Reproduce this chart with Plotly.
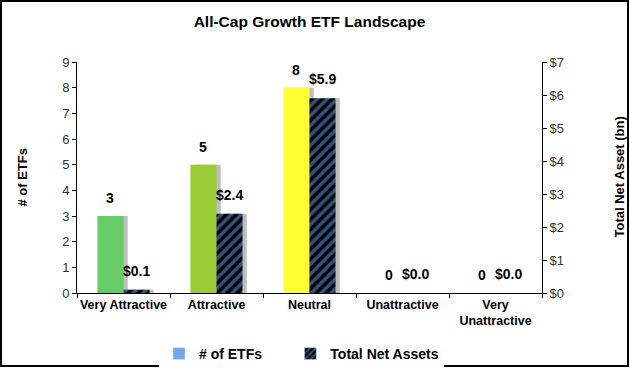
import plotly.graph_objects as go

categories = ["Very Attractive", "Attractive", "Neutral", "Unattractive", "Very<br>Unattractive"]
num_etfs = [3, 5, 8, 0, 0]
net_assets = [0.1, 2.4, 5.9, 0.0, 0.0]
etf_colors = ["#66CC66", "#99CC33", "#FFFF33", "#BBBBBB", "#BBBBBB"]
left_ticks = list(range(0, 10))
right_ticks = list(range(0, 8))

FONT = "Liberation Sans, Arial, sans-serif"
BW = 0.28      # bar width (category units)
SH = 0.045     # shadow shift
BLUE = "#62A8FF"
HATCH = dict(shape="/", fgcolor=BLUE, bgcolor="#000000", size=7, solidity=0.5)

W, H = 630, 368
ml, mr, mt, mb = 77, 88, 62, 75
pw, ph = W - ml - mr, H - mt - mb

fig = go.Figure()
# shadows
fig.add_trace(go.Bar(x=categories, y=num_etfs, showlegend=False, hoverinfo="skip",
                     marker=dict(color="#BDBDBD", line=dict(width=0)),
                     width=BW, offset=-BW + SH))
fig.add_trace(go.Bar(x=categories, y=net_assets, yaxis="y2", showlegend=False, hoverinfo="skip",
                     marker=dict(color="#BDBDBD", line=dict(width=0)),
                     width=BW, offset=SH))
# main bars
fig.add_trace(go.Bar(
    x=categories, y=num_etfs, name="# of ETFs", showlegend=False,
    marker=dict(color=etf_colors, line=dict(width=0)),
    width=BW, offset=-BW,
))
fig.add_trace(go.Bar(
    x=categories, y=net_assets, name="Total Net Assets", showlegend=False, yaxis="y2",
    marker=dict(color="#000000", line=dict(width=0), pattern=HATCH),
    width=BW, offset=0.0,
))
# legend entries
fig.add_trace(go.Bar(x=[None], y=[None], name="<b># of ETFs</b>" + "&nbsp;" * 6,
                     marker=dict(color="#6FA8F0")))
fig.add_trace(go.Bar(x=[None], y=[None], name="<b>Total Net Assets</b>", yaxis="y2",
                     marker=dict(color="#000000", pattern=dict(shape="/", fgcolor=BLUE,
                                                               bgcolor="#000000", size=5, solidity=0.5))))

# data labels
for i, v in enumerate(num_etfs):
    fig.add_annotation(x=i - BW / 2, y=v, xref="x", yref="y", text=f"<b>{v}</b>",
                       showarrow=False, yanchor="bottom", yshift=8,
                       font=dict(family=FONT, size=14, color="black"))
for i, v in enumerate(net_assets):
    fig.add_annotation(x=i + BW / 2, y=v, xref="x", yref="y2", text=f"<b>${v:.1f}</b>",
                       showarrow=False, yanchor="bottom", yshift=9,
                       font=dict(family=FONT, size=14, color="black"))

# axis titles
fig.add_annotation(x=-(ml - 22) / pw, y=0.5, xref="paper", yref="paper", text="<b># of ETFs</b>",
                   xanchor="center", yanchor="middle",
                   showarrow=False, textangle=-90, font=dict(family=FONT, size=13, color="black"))
fig.add_annotation(x=1 + (619 - ml - pw) / pw, y=0.5, xref="paper", yref="paper",
                   xanchor="center", yanchor="middle",
                   text="<b>Total Net Asset (bn)</b>", showarrow=False,
                   textangle=-90, font=dict(family=FONT, size=13, color="black"))

fig.update_layout(
    width=W, height=H,
    margin=dict(l=ml, r=mr, t=mt, b=mb, autoexpand=False),
    paper_bgcolor="white", plot_bgcolor="white",
    font=dict(family=FONT, size=12, color="black"),
    title=dict(text="<b>All-Cap Growth ETF Landscape</b>", x=(315) / W, xanchor="center", xref="paper",
               y=1 - 22 / H, yanchor="middle", font=dict(size=15.5, family=FONT)),
    barmode="overlay",
    xaxis=dict(showline=True, linecolor="black", linewidth=1, ticks="outside", tickson="boundaries",
               ticklen=4, tickcolor="black", showgrid=False, automargin=False, tickangle=0,
               tickfont=dict(family=FONT, size=12.5, color="black"),
               tickvals=categories, ticktext=[f"<b>{c}</b>" for c in categories]),
    yaxis=dict(range=[0, 9], tickvals=left_ticks, showline=True, linecolor="black", linewidth=1,
               ticks="outside", ticklen=4, tickcolor="black", showgrid=False, zeroline=False,
               automargin=False, tickfont=dict(size=13, color="#333333")),
    yaxis2=dict(range=[0, 7], tickvals=right_ticks, ticktext=[f"${v}" for v in right_ticks],
                overlaying="y", side="right", showline=True, linecolor="black", linewidth=1,
                ticks="outside", ticklen=4, tickcolor="black", showgrid=False, zeroline=False,
                automargin=False, tickfont=dict(size=13, color="#333333")),
    legend=dict(orientation="h", x=(159 - ml) / pw, xanchor="left",
                y=-(338 - (H - mb)) / ph, yanchor="top",
                font=dict(size=14, family=FONT), traceorder="normal", itemwidth=30),
)

# outer frame
fig.add_shape(type="rect", xref="paper", yref="paper",
              x0=-(ml - 1) / pw, x1=1 + (mr - 2) / pw, y0=-(mb - 2) / ph, y1=1 + (mt - 1) / ph,
              line=dict(color="black", width=2), fillcolor="rgba(0,0,0,0)", layer="above")

fig.write_html("out.html", config={"displayModeBar": False})

with open("out.html", encoding="utf-8") as f:
    html = f.read()
html = html.replace("<head>", "<head><style>html,body{margin:0;padding:0;overflow:hidden}</style>", 1)
with open("out.html", "w", encoding="utf-8") as f:
    f.write(html)
